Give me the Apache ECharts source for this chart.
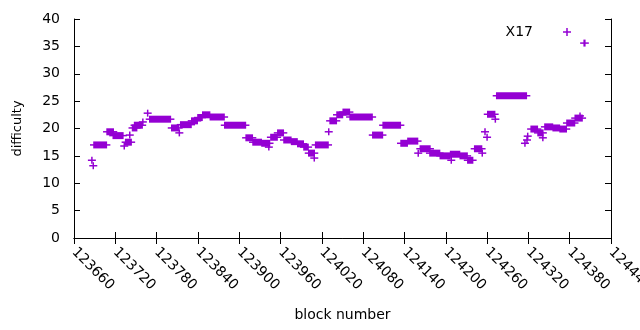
<!DOCTYPE html>
<html lang="en">

<head>
    <meta charset="UTF-8">
    <title>difficulty</title>
    <script src="https://cdn.jsdelivr.net/npm/echarts@6/dist/echarts.min.js"></script>
    <style>
        body {
            margin: 0;
        }
    </style>
</head>

<body>
    <div id="chart" style="width:640px;height:330px;"></div>
    <script>
        // runs of blocks sharing one difficulty: first block, last block, value
        const blockStart = [
            123686, 123688, 123689, 123708, 123717, 123733, 123735, 123741, 123745, 123748,
            123760, 123767, 123770, 123802, 123813, 123815, 123831, 123840, 123847, 123858,
            123879, 123910, 123920, 123933, 123943, 123946, 123956, 123965, 123976, 123985,
            123994, 124001, 124009, 124011, 124030, 124032, 124042, 124051, 124061, 124094,
            124109, 124135, 124145, 124160, 124163, 124177, 124192, 124208, 124207, 124221,
            124232, 124242, 124253, 124257, 124260, 124261, 124272, 124274, 124315, 124318,
            124319, 124324, 124334, 124341, 124344, 124356, 124366, 124376, 124388, 124395,
            124401
        ];
        const blockEnd = [
            123686, 123688, 123707, 123717, 123731, 123733, 123743, 123741, 123751, 123759,
            123760, 123767, 123800, 123812, 123813, 123830, 123839, 123846, 123857, 123878,
            123909, 123919, 123932, 123944, 123943, 123955, 123964, 123975, 123984, 123993,
            124000, 124009, 124009, 124029, 124030, 124041, 124050, 124060, 124093, 124108,
            124134, 124144, 124159, 124160, 124177, 124191, 124206, 124208, 124220, 124231,
            124239, 124252, 124253, 124257, 124260, 124271, 124272, 124317, 124315, 124318,
            124319, 124333, 124341, 124341, 124355, 124365, 124375, 124387, 124398, 124395,
            124402
        ];
        const difficulty = [
            14.2, 13.2, 17.0, 19.4, 18.7, 16.8, 17.5, 18.8, 20.1, 20.6,
            21.2, 22.8, 21.7, 20.1, 19.2, 20.7, 21.4, 22.0, 22.5, 22.1,
            20.6, 18.3, 17.5, 17.3, 16.6, 18.4, 19.2, 17.9, 17.6, 17.2,
            16.6, 15.5, 14.6, 17.0, 19.4, 21.4, 22.5, 23.0, 22.1, 18.8,
            20.6, 17.3, 17.7, 15.5, 16.3, 15.5, 15.0, 14.2, 15.3, 15.0,
            14.2, 16.3, 15.5, 19.4, 18.4, 22.6, 21.7, 26.0, 17.3, 17.9,
            18.6, 19.9, 19.2, 18.3, 20.3, 20.1, 19.9, 21.0, 21.9, 22.3,
            35.6
        ];
        const xTicks = { min: 123660, max: 124440, step: 60 };
        const yTicks = { min: 0, max: 40, step: 5 };

        const purple = '#9400d3';
        const font = 'DejaVu Sans';

        let chart = echarts.init(document.querySelector('#chart'), null, { renderer: 'canvas' });

        let rows = blockStart.map((b, i) => [b, blockEnd[i], difficulty[i]]);

        let axisLine = { show: true, lineStyle: { color: '#000', width: 1 } };
        let tick = { show: true, inside: true, length: 6, lineStyle: { color: '#000' } };

        let option = {
            animation: false,
            backgroundColor: '#fff',
            textStyle: { fontFamily: font },
            grid: { left: 74, right: 29, top: 19, bottom: 92, outerBoundsMode: 'none', containLabel: false },
            legend: {
                right: 64,
                top: 20,
                align: 'right',
                itemWidth: 8,
                itemHeight: 8,
                icon: 'path://M3.25,0h1.5v3.25h3.25v1.5h-3.25v3.25h-1.5v-3.25h-3.25v-1.5h3.25z',
                textStyle: { fontFamily: font, fontSize: 14, color: '#000', padding: [0, 25, 0, 0] },
                data: ['X17']
            },
            xAxis: [{
                type: 'value',
                min: xTicks.min,
                max: xTicks.max,
                interval: xTicks.step,
                name: 'block number',
                nameLocation: 'middle',
                nameGap: 70,
                nameTextStyle: { fontFamily: font, fontSize: 14, color: '#000' },
                axisLine: axisLine,
                axisTick: tick,
                splitLine: { show: false },
                axisLabel: {
                    rotate: -45,
                    margin: 12,
                    fontFamily: font,
                    fontSize: 14,
                    color: '#000',
                    showMaxLabel: true,
                    formatter: v => String(v)
                }
            }, {
                type: 'value',
                position: 'top',
                min: xTicks.min,
                max: xTicks.max,
                interval: xTicks.step,
                axisLine: axisLine,
                axisTick: tick,
                axisLabel: { show: false },
                splitLine: { show: false }
            }],
            yAxis: [{
                type: 'value',
                min: yTicks.min,
                max: yTicks.max,
                interval: yTicks.step,
                name: 'difficulty',
                nameLocation: 'middle',
                nameGap: 50,
                nameTextStyle: { fontFamily: font, fontSize: 13, color: '#000' },
                axisLine: axisLine,
                axisTick: tick,
                splitLine: { show: false },
                axisLabel: { margin: 14, fontFamily: font, fontSize: 14, color: '#000' }
            }, {
                type: 'value',
                position: 'right',
                min: yTicks.min,
                max: yTicks.max,
                interval: yTicks.step,
                axisLine: axisLine,
                axisTick: tick,
                axisLabel: { show: false },
                splitLine: { show: false }
            }],
            series: [{
                name: 'X17',
                type: 'custom',
                xAxisIndex: 0,
                yAxisIndex: 0,
                itemStyle: { color: purple },
                encode: { x: [0, 1], y: 2 },
                data: rows,
                renderItem: function (params, api) {
                    let a = api.coord([api.value(0), api.value(2)]);
                    let b = api.coord([api.value(1), api.value(2)]);
                    return {
                        type: 'group',
                        children: [{
                            type: 'rect',
                            shape: { x: a[0] - 0.75, y: a[1] - 3.5, width: b[0] - a[0] + 1.5, height: 7 },
                            style: { fill: purple }
                        }, {
                            type: 'line',
                            shape: { x1: a[0] - 4, y1: a[1], x2: b[0] + 4, y2: b[1] },
                            style: { stroke: purple, lineWidth: 1.5 }
                        }]
                    };
                }
            }]
        };
        chart.setOption(option);
    </script>
</body>

</html>
